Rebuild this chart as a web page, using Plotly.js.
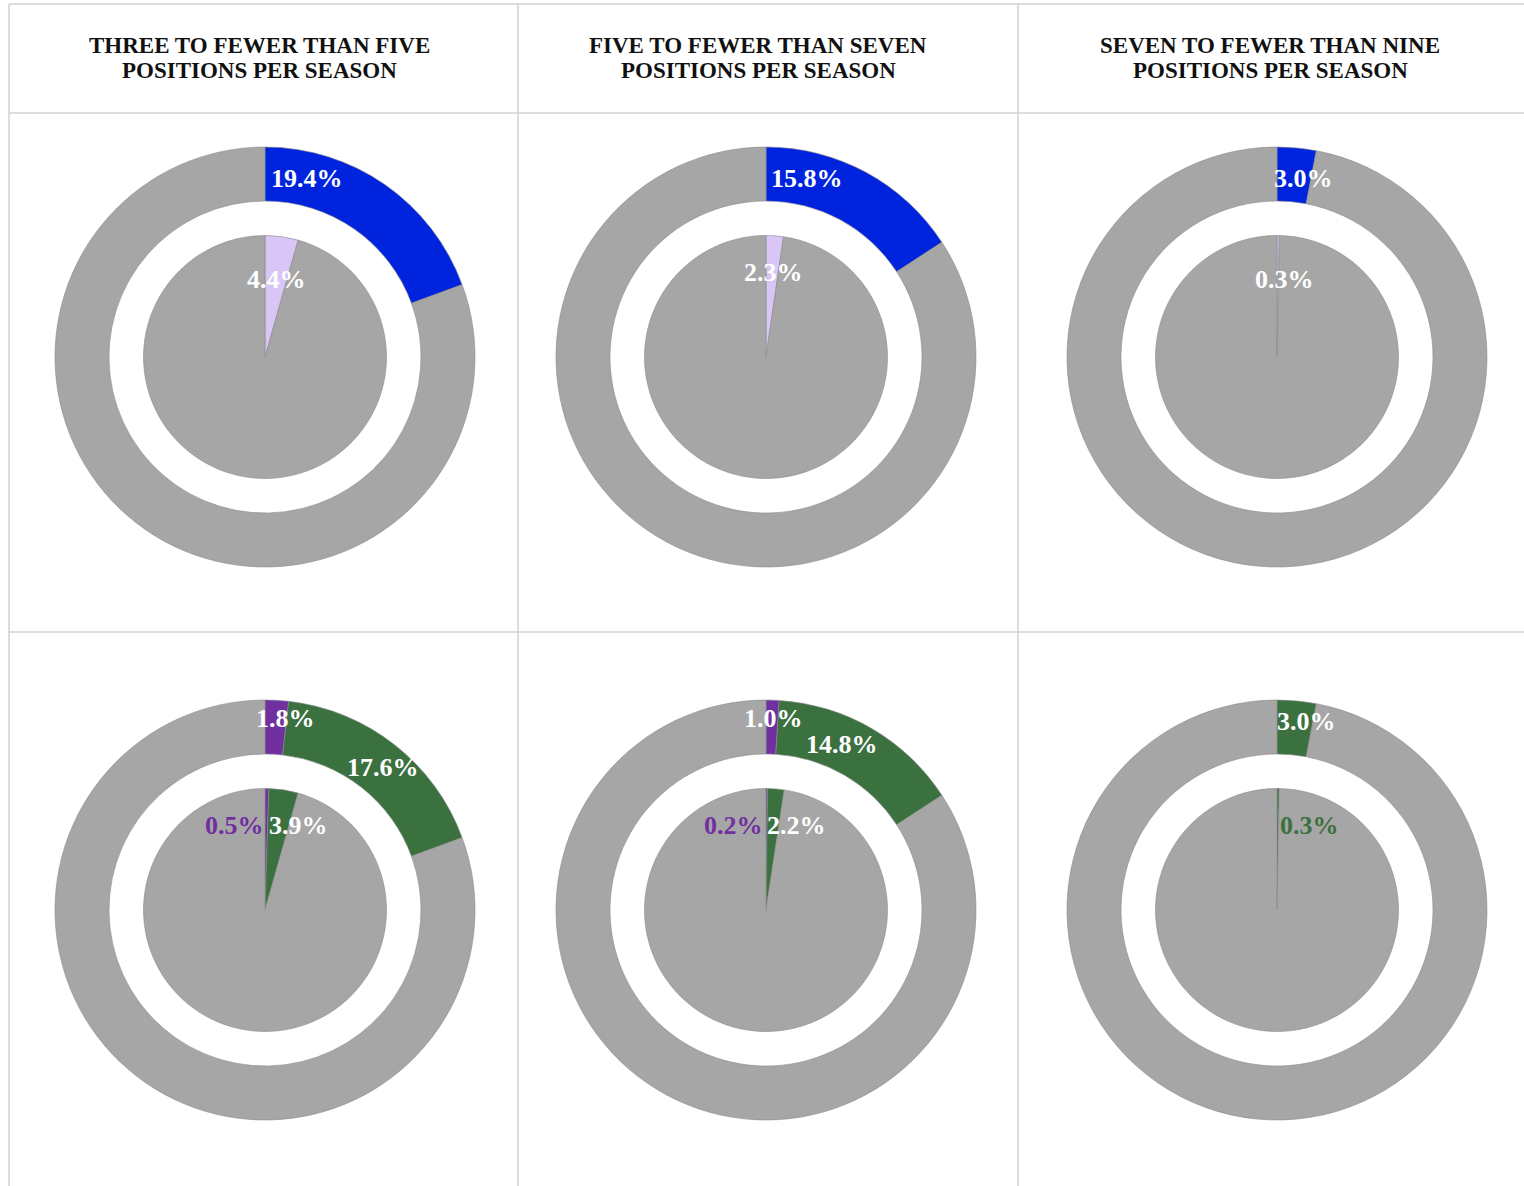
<!DOCTYPE html>
<html>
<head>
<meta charset="utf-8">
<script src="https://cdn.plot.ly/plotly-3.0.1.min.js"></script>
<style>html,body{margin:0;padding:0;background:#fff;}#chart{width:1524px;height:1186px;}</style>
</head>
<body>
<div id="chart"></div>
<script>
// ---- data ----
const columnTitles = [
  "THREE TO FEWER THAN FIVE<br>POSITIONS PER SEASON",
  "FIVE TO FEWER THAN SEVEN<br>POSITIONS PER SEASON",
  "SEVEN TO FEWER THAN NINE<br>POSITIONS PER SEASON"
];
// row 1
const row1Outer = [19.4, 15.8, 3.0];
const row1Inner = [4.4, 2.3, 0.3];
// row 2
const row2OuterPurple = [1.8, 1.0, 0.0];
const row2OuterGreen  = [17.6, 14.8, 3.0];
const row2InnerPurple = [0.5, 0.2, 0.0];
const row2InnerGreen  = [3.9, 2.2, 0.3];

// ---- styles / layout ----
const W = 1524, H = 1186;
const GREY = '#a6a6a6', BLUE = '#0024de', LAV = '#d9c6f7', GREEN = '#3b713f', PURPLE = '#7030a0';
const colCenters = [265, 766, 1277];
const rowCenters = [357, 910];
const outerR = 210, holeR = 156, innerR = 121.5;
const titleX = [259, 758, 1270];
const titleLineY = [45, 71];
const edge = {color: '#8a8a8a', width: 0.6};
const FONT = 'Liberation Serif, Times New Roman, serif';

// label offsets (px from pie center) per chart
const row1OuterOff = [[42,-179],[41,-179],[26,-179]];
const row1InnerOff = [[11,-78],[7,-84],[7,-78]];
const row2OuterPurpleOff = [[20,-192],[7,-192],[0,-192]];
const row2OuterGreenOff = [[118,-143],[76,-166],[29,-189]];
const row2InnerPurpleOff = [[-31,-85],[-33,-85],[-33,-85]];
const row2InnerGreenOff = [[33,-85],[30,-85],[32,-85]];

function px2x(x){return x/W;}
function px2y(y){return 1 - y/H;}
function domainFor(cx, cy, r){
  return {x:[px2x(cx-r), px2x(cx+r)], y:[px2y(cy+r), px2y(cy-r)]};
}
function pie(values, colors, cx, cy, r, hole){
  return {
    type:'pie', values: values, sort:false, direction:'clockwise', rotation:0,
    marker:{colors: colors, line: edge}, textinfo:'none', hoverinfo:'skip',
    showlegend:false, hole: hole || 0, domain: domainFor(cx, cy, r)
  };
}
function rest(){ let s = 0; for (const v of arguments) s += v; return Math.max(0, 100 - s); }
function fmt(v){ return v.toFixed(1) + '%'; }

const traces = [];
const annotations = [];
function label(v, cx, cy, off, color){
  if (v <= 0) return;
  annotations.push({
    x: px2x(cx + off[0]), y: px2y(cy + off[1]), xref:'paper', yref:'paper',
    text: '<b>' + fmt(v) + '</b>', showarrow:false, xanchor:'center', yanchor:'middle',
    font:{family: FONT, size:26, color: color}
  });
}

for (let i = 0; i < 3; i++) {
  const cx = colCenters[i];
  // row 1
  let cy = rowCenters[0];
  traces.push(pie([row1Outer[i], rest(row1Outer[i])], [BLUE, GREY], cx, cy, outerR, holeR/outerR));
  traces.push(pie([row1Inner[i], rest(row1Inner[i])], [LAV, GREY], cx, cy, innerR, 0));
  label(row1Outer[i], cx, cy, row1OuterOff[i], '#ffffff');
  label(row1Inner[i], cx, cy, row1InnerOff[i], '#ffffff');
  // row 2
  cy = rowCenters[1];
  traces.push(pie([row2OuterPurple[i], row2OuterGreen[i], rest(row2OuterPurple[i], row2OuterGreen[i])],
                  [PURPLE, GREEN, GREY], cx, cy, outerR, holeR/outerR));
  traces.push(pie([row2InnerPurple[i], row2InnerGreen[i], rest(row2InnerPurple[i], row2InnerGreen[i])],
                  [PURPLE, GREEN, GREY], cx, cy, innerR, 0));
  label(row2OuterPurple[i], cx, cy, row2OuterPurpleOff[i], '#ffffff');
  label(row2OuterGreen[i], cx, cy, row2OuterGreenOff[i], '#ffffff');
  label(row2InnerPurple[i], cx, cy, row2InnerPurpleOff[i], PURPLE);
  label(row2InnerGreen[i], cx, cy, row2InnerGreenOff[i], i === 2 ? GREEN : '#ffffff');
  // titles (one annotation per line for tighter line spacing)
  columnTitles[i].split('<br>').forEach((line, k) => {
    annotations.push({
      x: px2x(titleX[i]), y: px2y(titleLineY[k]), xref:'paper', yref:'paper', text: '<b>' + line + '</b>',
      showarrow:false, xanchor:'center', yanchor:'middle', align:'center',
      font:{family: FONT, size:23, color:'#111111'}
    });
  });
}

const lineStyle = {color:'#d2d2d2', width:1.5};
const shapes = [];
[9, 518, 1018].forEach(x => shapes.push({type:'line', xref:'paper', yref:'paper',
  x0:px2x(x), x1:px2x(x), y0:0, y1:px2y(4), line:lineStyle}));
[4, 113, 632].forEach(y => shapes.push({type:'line', xref:'paper', yref:'paper',
  x0:px2x(9), x1:1, y0:px2y(y), y1:px2y(y), line:lineStyle}));

Plotly.newPlot('chart', traces, {
  width: W, height: H, margin:{l:0,r:0,t:0,b:0},
  paper_bgcolor:'#ffffff', plot_bgcolor:'#ffffff',
  annotations: annotations, shapes: shapes, showlegend:false
}, {displayModeBar:false, staticPlot:true});
</script>
</body>
</html>
